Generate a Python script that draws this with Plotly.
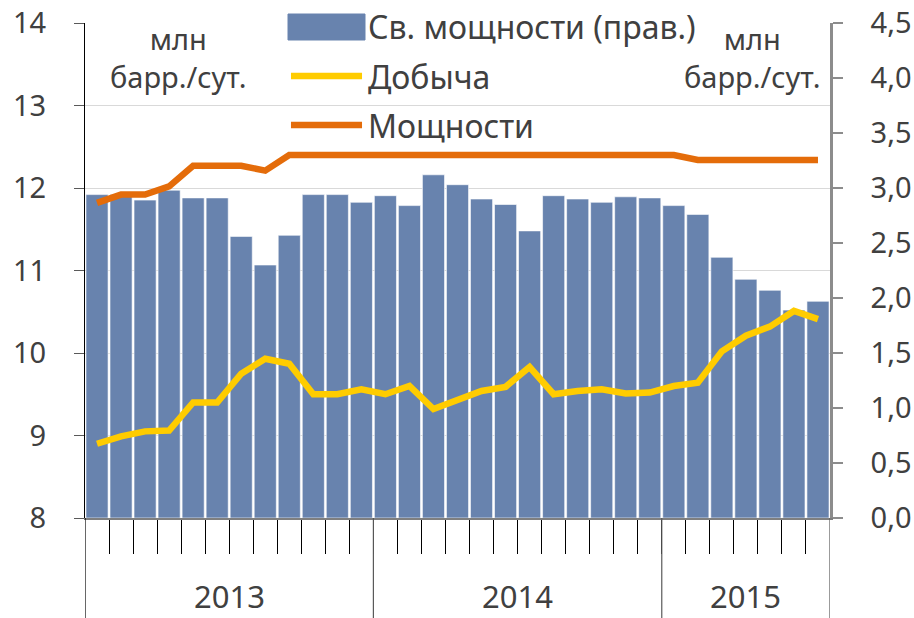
import plotly.graph_objects as go

# ---- data ----
years = ["2013", "2014", "2015"]
months_per_year = [12, 12, 7]
spare_capacity = [2.94, 2.94, 2.89, 2.98, 2.91, 2.91, 2.56, 2.30, 2.57, 2.94, 2.94, 2.87,
                  2.93, 2.84, 3.12, 3.03, 2.90, 2.85, 2.61, 2.93, 2.90, 2.87, 2.92, 2.91,
                  2.84, 2.76, 2.37, 2.17, 2.07, 1.89, 1.97]
production = [8.90, 8.99, 9.05, 9.06, 9.40, 9.40, 9.75, 9.93, 9.87, 9.50, 9.50, 9.56,
              9.50, 9.60, 9.32, 9.43, 9.54, 9.59, 9.83, 9.50, 9.54, 9.56, 9.51, 9.52,
              9.60, 9.64, 10.02, 10.21, 10.32, 10.51, 10.41]
capacity = [11.82, 11.92, 11.92, 12.02, 12.27, 12.27, 12.27, 12.21, 12.40, 12.40, 12.40, 12.40,
            12.40, 12.40, 12.40, 12.40, 12.40, 12.40, 12.40, 12.40, 12.40, 12.40, 12.40, 12.40,
            12.40, 12.34, 12.34, 12.34, 12.34, 12.34, 12.34]
left_ticks = [8, 9, 10, 11, 12, 13, 14]
right_ticks = [0, 0.5, 1, 1.5, 2, 2.5, 3, 3.5, 4, 4.5]
series_names = ["Св. мощности (прав.)", "Добыча", "Мощности"]
unit_label = "млн<br>барр./сут."

BAR = "#6883AE"
YEL = "#FFCC00"
ORA = "#E46C0A"
TXT = "#404040"
FONT = "Noto Sans"

n = len(spare_capacity)
x = list(range(n))

fig = go.Figure()
fig.add_trace(go.Bar(x=x, y=spare_capacity, yaxis="y", marker=dict(color=BAR, line=dict(color="white", width=0.6)),
                     name=series_names[0], showlegend=False))
fig.add_trace(go.Scatter(x=x, y=production, yaxis="y2", mode="lines",
                         line=dict(color=YEL, width=6.5), name=series_names[1], showlegend=False))
fig.add_trace(go.Scatter(x=x, y=capacity, yaxis="y2", mode="lines",
                         line=dict(color=ORA, width=6.5), name=series_names[2], showlegend=False))

# month boundaries and year boundaries
bounds = [i + 0.5 for i in range(n - 1)]
year_edges = [-0.5]
acc = -0.5
for c in months_per_year:
    acc += c
    year_edges.append(acc)

shapes = []
for xe in year_edges:
    shapes.append(dict(type="line", xref="x", yref="paper", x0=xe, x1=xe, y0=0, y1=-0.205,
                       line=dict(color="black" if xe == -0.5 else "#595959", width=1.2)))

annotations = []
start = 0
for yr, c in zip(years, months_per_year):
    annotations.append(dict(x=start + (c - 1) / 2, y=(518 - 596) / 495, xref="x", yref="paper", text=yr,
                            xanchor="center", yanchor="middle",
                            showarrow=False, font=dict(family=FONT, size=31, color=TXT)))
    start += c

for xp in ((178 - 85) / 745, (752 - 85) / 745):
    annotations.append(dict(x=xp, y=(518 - 57) / 495, xref="paper", yref="paper", text=unit_label,
                            xanchor="center", yanchor="middle",
                            showarrow=False, font=dict(family=FONT, size=29, color=TXT), align="center"))

# manual legend
lx0, lx1 = (288 - 85) / 745, (365 - 85) / 745
shapes.append(dict(type="rect", xref="paper", yref="paper", x0=lx0, x1=lx1,
                   y0=(518 - 40) / 495, y1=(518 - 14) / 495, fillcolor=BAR, line=dict(color=BAR, width=1)))
for yy, col in ((76, YEL), (125, ORA)):
    shapes.append(dict(type="line", xref="paper", yref="paper", x0=lx0 + 0.004, x1=lx1 - 0.004,
                       y0=(518 - yy) / 495, y1=(518 - yy) / 495, line=dict(color=col, width=6.5)))
for yy, nm in zip((26, 76, 125), series_names):
    annotations.append(dict(x=(366 - 85) / 745, y=(518 - yy) / 495, xref="paper", yref="paper", text=nm,
                            xanchor="left", yanchor="middle", showarrow=False,
                            font=dict(family=FONT, size=32, color=TXT)))

fig.update_layout(
    width=914, height=618,
    margin=dict(l=85, r=84, t=23, b=100, autoexpand=False),
    plot_bgcolor="white", paper_bgcolor="white",
    separators=", ",
    bargap=0.08,
    showlegend=False,
    xaxis=dict(range=[-0.5, n - 0.5], tickvals=bounds, ticktext=[""] * len(bounds), ticks="outside",
               ticklen=34, tickcolor="black", tickwidth=1, showgrid=False, zeroline=False,
               showline=True, linecolor="#7F7F7F", linewidth=1.5, automargin=False),
    yaxis=dict(side="right", range=[0, 4.5], tickvals=right_ticks, tickformat=".1f", showgrid=False,
               zeroline=False, showline=True, linecolor="#8C8C8C", linewidth=2.5, ticks="outside",
               ticklen=10, tickcolor="#8C8C8C", tickwidth=2, ticklabelstandoff=22, automargin=False,
               tickfont=dict(family=FONT, size=29, color=TXT)),
    yaxis2=dict(side="left", overlaying="y", range=[8, 14], tickvals=left_ticks, showgrid=True,
                gridcolor="#D9D9D9", gridwidth=1, zeroline=False, showline=True, linecolor="black",
                linewidth=1, ticks="outside", ticklen=10, tickcolor="#595959", tickwidth=1,
                ticklabelstandoff=22, automargin=False, tickfont=dict(family=FONT, size=29, color=TXT)),
    shapes=shapes, annotations=annotations,
)

fig.write_html("out.html", config={"displayModeBar": False},
               post_script="document.body.style.margin='0px';document.body.style.padding='0px';"
                           "document.documentElement.style.overflow='hidden';")
